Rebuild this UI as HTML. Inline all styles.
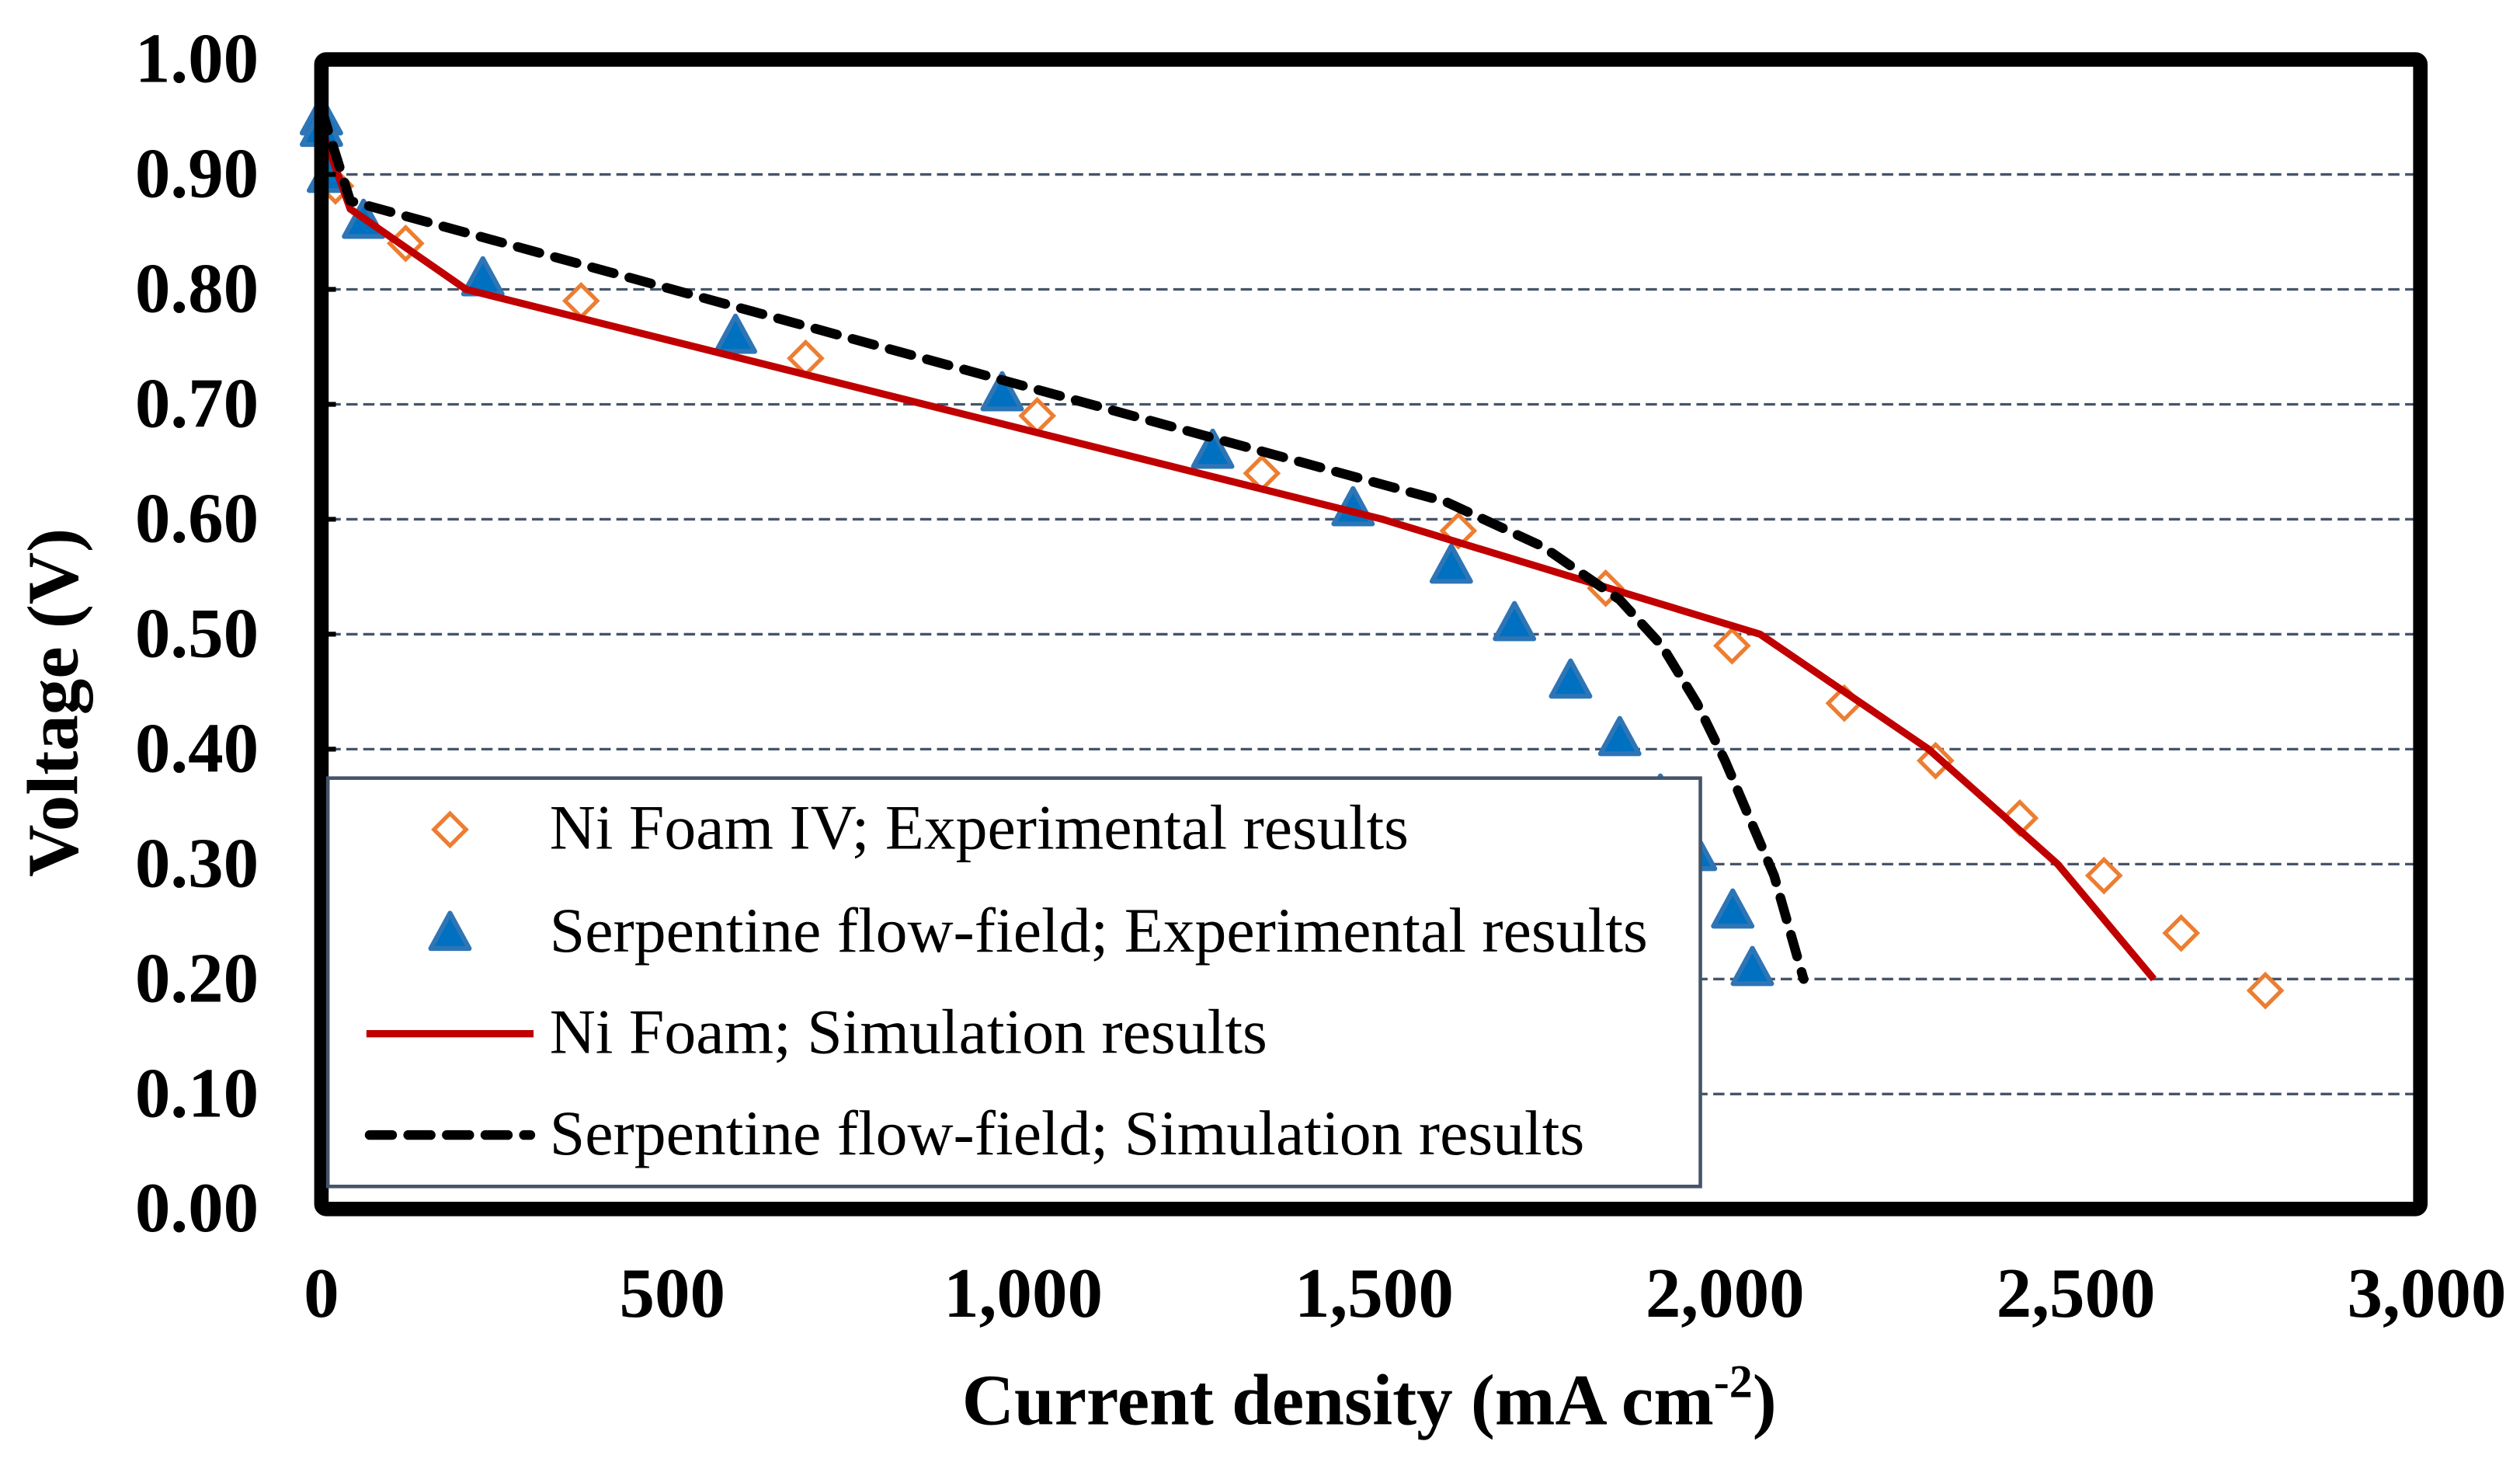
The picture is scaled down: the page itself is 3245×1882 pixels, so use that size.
<!DOCTYPE html>
<html><head><meta charset="utf-8"><style>
html,body{margin:0;padding:0;background:#fff;}
svg{display:block;}
text{font-family:"Liberation Serif",serif;}
</style></head><body>
<svg id="chart" width="3245" height="1882" viewBox="0 0 1568 909.4" preserveAspectRatio="none" xmlns="http://www.w3.org/2000/svg">
<g id="grid"></g>
<g id="series"></g>
<rect x="200" y="37" width="1306" height="715" rx="3" fill="none" stroke="#000" stroke-width="9"/>
<g id="ticks"></g>
<text transform="translate(48,437) rotate(-90)" text-anchor="middle" font-size="45" font-weight="bold">Voltage (V)</text>
<text x="852" y="886" text-anchor="middle" font-size="45" font-weight="bold">Current density (mA cm<tspan dy="-17" font-size="29">-2</tspan><tspan dy="17">)</tspan></text>
<g>
<rect x="204" y="484" width="854" height="254" fill="#fff" stroke="#44546a" stroke-width="2.2"/>
<polygon points="280,506 290,516 280,526 270,516" fill="#fff" stroke="#ED7D31" stroke-width="2.5"/>
<text x="342" y="528" font-size="39.5">Ni Foam IV; Experimental results</text>
<polygon points="280,568 292,590 268,590" fill="#0070C0" stroke="#2E75B6" stroke-width="3" stroke-linejoin="round"/>
<text x="342" y="592" font-size="39.5">Serpentine flow-field; Experimental results</text>
<line x1="228" y1="643" x2="332" y2="643" stroke="#C00000" stroke-width="4.5"/>
<text x="342" y="655" font-size="39.5">Ni Foam; Simulation results</text>
<line x1="230" y1="706" x2="330" y2="706" stroke="#000" stroke-width="6" stroke-dasharray="14 10" stroke-linecap="round"/>
<text x="342" y="718" font-size="39.5">Serpentine flow-field; Simulation results</text>
</g>
</svg>
<script>
const xTicks=[0,500,1000,1500,2000,2500,3000];
const xTickLabels=["0","500","1,000","1,500","2,000","2,500","3,000"];
const yTicks=[0,0.1,0.2,0.3,0.4,0.5,0.6,0.7,0.8,0.9,1.0];
const yTickLabels=["0.00","0.10","0.20","0.30","0.40","0.50","0.60","0.70","0.80","0.90","1.00"];
const niExpX=[0,20,120,370,690,1020,1340,1620,1830,2010,2170,2300,2420,2540,2650,2770];
const niExpY=[0.94,0.89,0.84,0.79,0.74,0.69,0.64,0.59,0.54,0.49,0.44,0.39,0.34,0.29,0.24,0.19];
const serExpX=[0,0,10,60,230,590,970,1270,1470,1610,1700,1780,1850,1908,1958,2011,2039];
const serExpY=[0.95,0.94,0.90,0.86,0.81,0.76,0.71,0.66,0.61,0.56,0.51,0.46,0.41,0.36,0.31,0.26,0.21];
const niSimX=[0,41,206,1512,2050,2290,2474,2611];
const niSimY=[0.94,0.87,0.80,0.60,0.50,0.40,0.30,0.20];
const serSimX=[0,41,1603,1741,1850,1910,1960,2000,2035,2070,2112];
const serSimY=[0.957,0.877,0.615,0.576,0.53,0.49,0.44,0.39,0.34,0.29,0.20];

const NS="http://www.w3.org/2000/svg";
const X=v=>200+v/3000*1310;
const Y=v=>752-v*715;
function mk(tag,attrs,parent){const e=document.createElementNS(NS,tag);for(const k in attrs)e.setAttribute(k,attrs[k]);parent.appendChild(e);return e;}
const grid=document.getElementById('grid'),ticks=document.getElementById('ticks'),series=document.getElementById('series');
yTicks.forEach((v,i)=>{
  if(v>0&&v<1){const g=mk('line',{x1:X(0)+5,x2:X(3000)-5,y1:Y(v),y2:Y(v),stroke:'#44546a','stroke-width':1.6,'stroke-dasharray':'7 3.5'},grid);
  
  }
  const t=mk('line',{x1:X(0),x2:X(0)+9,y1:Y(v),y2:Y(v),stroke:'#000','stroke-width':3},ticks);
  
  
  const l=mk('text',{x:161,y:Y(v)+14,'text-anchor':'end','font-size':44,'font-weight':'bold'},ticks);
  l.textContent=yTickLabels[i];
  
  
});
xTicks.forEach((v,i)=>{
  const l=mk('text',{x:X(v),y:819,'text-anchor':'middle','font-size':44,'font-weight':'bold'},ticks);
  l.textContent=xTickLabels[i];
  
  
});
function pts(xs,ys){return xs.map((x,i)=>X(x)+','+Y(ys[i])).join(' ');}
niExpX.forEach((x,i)=>{
  const cx=X(x),cy=Y(niExpY[i]);
  const d=mk('polygon',{points:`${cx},${cy-10} ${cx+10},${cy} ${cx},${cy+10} ${cx-10},${cy}`,fill:'#fff',stroke:'#ED7D31','stroke-width':2.5},series);
  
  
});
serExpX.forEach((x,i)=>{
  const cx=X(x),cy=Y(serExpY[i]);
  const t=mk('polygon',{points:`${cx},${cy-12} ${cx+12},${cy+10} ${cx-12},${cy+10}`,fill:'#0070C0',stroke:'#2E75B6','stroke-width':3,'stroke-linejoin':'round'},series);
  
  
});
const r=mk('polyline',{points:pts(niSimX,niSimY),fill:'none',stroke:'#C00000','stroke-width':4.5,'stroke-linejoin':'round'},series);


const b=mk('polyline',{points:pts(serSimX,serSimY),fill:'none',stroke:'#000','stroke-width':6,'stroke-dasharray':'14 10','stroke-linecap':'round','stroke-linejoin':'round'},series);


</script>
</body></html>
